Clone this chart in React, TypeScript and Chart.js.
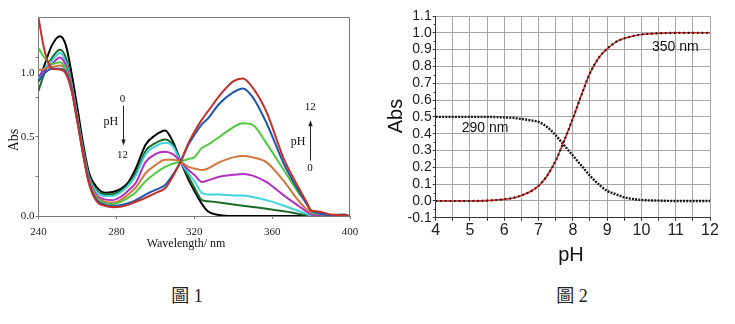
import React, { useEffect, useRef } from 'react';
import { Chart, registerables } from 'chart.js';

Chart.register(...registerables);

// ---------- Figure 1: UV-Vis spectra ----------
const wavelengths = [240, 243, 247, 251, 254, 257, 260, 263, 266, 270, 274, 278, 282, 286, 290, 295, 300, 305, 309, 313, 317, 320, 324, 327, 333, 340, 345, 350, 357, 366, 374, 378, 380, 383, 390, 397, 400];

const specPH0 = [0.85, 0.95, 1.08, 1.135, 1.08, 0.9, 0.68, 0.45, 0.27, 0.18, 0.147, 0.152, 0.17, 0.21, 0.3, 0.45, 0.51, 0.54, 0.47, 0.345, 0.23, 0.16, 0.075, 0.03, 0.006, 0, 0, 0, 0, 0, 0, 0, 0, 0, 0, 0, 0];
const specDarkGreen = [0.79, 0.9, 1.0, 1.05, 1.0, 0.84, 0.63, 0.42, 0.25, 0.16, 0.137, 0.138, 0.158, 0.2, 0.27, 0.41, 0.46, 0.483, 0.45, 0.343, 0.25, 0.18, 0.1, 0.093, 0.085, 0.072, 0.065, 0.057, 0.046, 0.03, 0.013, 0.005, 0, 0, 0, 0, 0];
const specCyan = [0.86, 0.93, 0.98, 1.03, 0.97, 0.83, 0.62, 0.41, 0.24, 0.15, 0.127, 0.127, 0.148, 0.19, 0.255, 0.39, 0.44, 0.462, 0.44, 0.343, 0.27, 0.22, 0.145, 0.135, 0.135, 0.13, 0.13, 0.12, 0.1, 0.065, 0.03, 0.012, 0.004, 0, 0, 0, 0];
const specMagenta = [0.88, 0.92, 0.96, 1.0, 0.95, 0.82, 0.61, 0.4, 0.23, 0.13, 0.105, 0.1, 0.12, 0.16, 0.21, 0.34, 0.39, 0.405, 0.39, 0.343, 0.29, 0.26, 0.215, 0.225, 0.248, 0.26, 0.265, 0.255, 0.215, 0.13, 0.06, 0.025, 0.01, 0.005, 0, 0, 0];
const specOrange = [0.92, 0.93, 0.94, 0.95, 0.92, 0.8, 0.6, 0.39, 0.22, 0.12, 0.09, 0.083, 0.1, 0.135, 0.18, 0.27, 0.32, 0.355, 0.355, 0.343, 0.31, 0.3, 0.29, 0.3, 0.34, 0.37, 0.378, 0.37, 0.34, 0.22, 0.09, 0.04, 0.02, 0.015, 0.005, 0, 0];
const specGreen = [1.06, 1.0, 0.96, 0.97, 0.93, 0.8, 0.6, 0.39, 0.21, 0.11, 0.08, 0.075, 0.088, 0.115, 0.15, 0.22, 0.27, 0.31, 0.33, 0.343, 0.36, 0.37, 0.43, 0.45, 0.5, 0.56, 0.585, 0.575, 0.46, 0.29, 0.14, 0.08, 0.03, 0.015, 0.005, 0, 0];
const specBlue = [0.85, 0.9, 0.93, 0.93, 0.91, 0.8, 0.6, 0.39, 0.21, 0.1, 0.072, 0.064, 0.068, 0.08, 0.1, 0.135, 0.165, 0.195, 0.26, 0.343, 0.45, 0.51, 0.58, 0.615, 0.71, 0.78, 0.805, 0.75, 0.59, 0.33, 0.15, 0.07, 0.035, 0.02, 0.005, 0.01, 0];
const specPH12 = [1.25, 1.05, 0.93, 0.925, 0.9, 0.79, 0.59, 0.38, 0.2, 0.09, 0.065, 0.056, 0.058, 0.07, 0.09, 0.115, 0.145, 0.175, 0.25, 0.343, 0.46, 0.53, 0.61, 0.66, 0.76, 0.85, 0.868, 0.81, 0.66, 0.36, 0.17, 0.08, 0.035, 0.03, 0.01, 0.005, 0];

const spectraXTicks = [240, 280, 320, 360, 400];
const spectraYTicks = [0, 0.25, 0.5, 0.75, 0.9, 1.0];
const spectraYLabels: Record<string, string> = { '0': '0.0', '0.5': '0.5', '0.9': '1.0' };

// ---------- Figure 2: titration ----------
const phValues = [4, 4.5, 5, 5.5, 6, 6.25, 6.5, 6.75, 7, 7.25, 7.5, 7.75, 8, 8.25, 8.5, 8.75, 9, 9.25, 9.5, 9.75, 10, 10.5, 11, 11.5, 12];
const abs350 = [0, 0, 0, 0.002, 0.01, 0.018, 0.033, 0.055, 0.09, 0.15, 0.24, 0.36, 0.49, 0.63, 0.76, 0.85, 0.905, 0.945, 0.967, 0.981, 0.99, 0.997, 1, 1, 1];
const abs290 = [0.5, 0.5, 0.5, 0.5, 0.497, 0.494, 0.488, 0.48, 0.47, 0.44, 0.39, 0.33, 0.27, 0.21, 0.15, 0.1, 0.06, 0.04, 0.022, 0.012, 0.006, 0.002, 0, 0, 0];
const titrationXTicks = [4, 4.5, 5, 5.5, 6, 6.5, 7, 7.5, 8, 8.5, 9, 9.5, 10, 10.5, 11, 11.5, 12];
const titrationYTicks = [-0.1, 0, 0.1, 0.2, 0.3, 0.4, 0.5, 0.6, 0.7, 0.8, 0.9, 1.0, 1.1];

const SERIF = '"Liberation Serif", "Times New Roman", serif';
const SANS = '"Liberation Sans", Arial, sans-serif';

type Note = { text: string; x: number; y: number; font: string; data?: boolean; rotate?: number };
type Arrow = { x: number; y1: number; y2: number };

const notesPlugin = {
  id: 'notes',
  afterDraw(chart: any, _args: any, opts: any) {
    const ctx = chart.ctx as CanvasRenderingContext2D;
    const sx = chart.scales.x;
    const sy = chart.scales.y;
    const area = chart.chartArea;
    if (opts.frame) {
      ctx.save();
      ctx.strokeStyle = opts.frame;
      ctx.lineWidth = 1;
      ctx.beginPath();
      ctx.moveTo(area.left, area.top + 0.5);
      ctx.lineTo(area.right - 0.5, area.top + 0.5);
      ctx.lineTo(area.right - 0.5, area.bottom);
      ctx.stroke();
      ctx.restore();
    }
    if (opts.minorY) {
      ctx.save();
      ctx.strokeStyle = '#333';
      ctx.lineWidth = 1;
      for (const v of opts.minorY as number[]) {
        const py = Math.round(sy.getPixelForValue(v)) + 0.5;
        ctx.beginPath();
        ctx.moveTo(area.left - 2, py);
        ctx.lineTo(area.left, py);
        ctx.stroke();
      }
      ctx.restore();
    }
    for (const n of (opts.items || []) as Note[]) {
      const px = n.data ? sx.getPixelForValue(n.x) : n.x;
      const py = n.data ? sy.getPixelForValue(n.y) : n.y;
      ctx.save();
      ctx.font = n.font;
      ctx.fillStyle = '#111';
      ctx.textAlign = 'center';
      ctx.textBaseline = 'middle';
      ctx.translate(px, py);
      if (n.rotate) ctx.rotate(n.rotate);
      ctx.fillText(n.text, 0, 0);
      ctx.restore();
    }
    for (const a of (opts.arrows || []) as Arrow[]) {
      const px = Math.round(sx.getPixelForValue(a.x)) + 0.5;
      const p1 = sy.getPixelForValue(a.y1);
      const p2 = sy.getPixelForValue(a.y2);
      const dir = p2 > p1 ? 1 : -1;
      ctx.save();
      ctx.strokeStyle = '#222';
      ctx.fillStyle = '#222';
      ctx.lineWidth = 1;
      ctx.beginPath();
      ctx.moveTo(px, p1);
      ctx.lineTo(px, p2 - dir * 4);
      ctx.stroke();
      ctx.beginPath();
      ctx.moveTo(px, p2);
      ctx.lineTo(px - 2.2, p2 - dir * 6);
      ctx.lineTo(px + 2.2, p2 - dir * 6);
      ctx.closePath();
      ctx.fill();
      ctx.restore();
    }
  },
};

function SpectraChart() {
  const ref = useRef<HTMLCanvasElement | null>(null);
  useEffect(() => {
    if (!ref.current) return;
    const series = [
      { label: 'pH 12', data: specPH12, color: '#c2322b' },
      { label: 'blue', data: specBlue, color: '#2157b0' },
      { label: 'green', data: specGreen, color: '#4fc940' },
      { label: 'orange', data: specOrange, color: '#d0783c' },
      { label: 'magenta', data: specMagenta, color: '#b22fc0' },
      { label: 'cyan', data: specCyan, color: '#3fd3e3' },
      { label: 'dark green', data: specDarkGreen, color: '#1b6a26' },
      { label: 'pH 0', data: specPH0, color: '#000000' },
    ];
    const chart = new Chart(ref.current, {
      type: 'line',
      data: {
        labels: wavelengths,
        datasets: series.map((s, i) => ({
          label: s.label,
          data: wavelengths.map((w, j) => ({ x: w, y: s.data[j] })),
          borderColor: s.color,
          borderWidth: 2,
          pointRadius: 0,
          cubicInterpolationMode: 'monotone' as const,
          order: i,
        })),
      },
      options: {
        animation: false,
        responsive: false,
        events: [],
        layout: { padding: { left: 0, top: 17, right: 20, bottom: 0 } },
        plugins: {
          legend: { display: false },
          tooltip: { enabled: false },
          notes: {
            frame: '#7a7a7a',
            items: [
              { text: 'Abs', x: 14, y: 140, font: `14px ${SERIF}`, rotate: -Math.PI / 2 },
              { text: 'Wavelength/ nm', x: 186, y: 244, font: `12px ${SERIF}` },
              { text: '0', x: 283.2, y: 0.738, font: `11px ${SERIF}`, data: true },
              { text: 'pH', x: 277.2, y: 0.593, font: `12px ${SERIF}`, data: true },
              { text: '12', x: 283.2, y: 0.385, font: `11px ${SERIF}`, data: true },
              { text: '12', x: 379.6, y: 0.687, font: `11px ${SERIF}`, data: true },
              { text: 'pH', x: 373.3, y: 0.465, font: `12px ${SERIF}`, data: true },
              { text: '0', x: 379.4, y: 0.3, font: `11px ${SERIF}`, data: true },
            ],
            arrows: [
              { x: 283.2, y1: 0.697, y2: 0.445 },
              { x: 379.4, y1: 0.35, y2: 0.605 },
            ],
          },
        } as any,
        scales: {
          x: {
            type: 'linear',
            min: 240,
            max: 400,
            afterFit: (s: any) => { s.height = 44; },
            afterBuildTicks: (s: any) => { s.ticks = spectraXTicks.map((v) => ({ value: v })); },
            border: { color: '#7a7a7a', width: 1 },
            grid: { drawOnChartArea: false, tickLength: 3, color: '#7a7a7a' },
            ticks: { padding: 7, color: '#222', font: { family: SERIF, size: 11 }, maxRotation: 0, callback: (v: any) => String(v) },
          },
          y: {
            type: 'linear',
            min: 0,
            max: 1.256,
            afterFit: (s: any) => { s.width = 38.5; },
            afterBuildTicks: (s: any) => { s.ticks = spectraYTicks.map((v) => ({ value: v })); },
            border: { color: '#7a7a7a', width: 1 },
            grid: {
              drawOnChartArea: false,
              tickLength: 3,
              tickColor: (c: any) => (c.tick && c.tick.value === 0.9 ? 'rgba(0,0,0,0)' : '#7a7a7a'),
            },
            ticks: {
              padding: 1,
              color: '#222',
              font: { family: SERIF, size: 11 },
              callback: (v: any) => spectraYLabels[String(v)] ?? '',
            },
          },
        },
      },
      plugins: [notesPlugin],
    } as any);
    return () => chart.destroy();
  }, []);
  return <canvas ref={ref} width={370} height={260} style={{ position: 'absolute', left: 0, top: 0, display: 'block' }} />;
}

function TitrationChart() {
  const ref = useRef<HTMLCanvasElement | null>(null);
  useEffect(() => {
    if (!ref.current) return;
    const minor: number[] = [];
    for (let i = 0; i < titrationYTicks.length - 1; i++) minor.push((titrationYTicks[i] + titrationYTicks[i + 1]) / 2);
    const chart = new Chart(ref.current, {
      type: 'line',
      data: {
        datasets: [
          {
            label: '350 nm dots',
            data: phValues.map((p, i) => ({ x: p, y: abs350[i] })),
            borderColor: '#1a1a1a',
            borderWidth: 2.2,
            borderDash: [1.6, 3],
            pointRadius: 0,
            cubicInterpolationMode: 'monotone' as const,
            order: 0,
          },
          {
            label: '350 nm',
            data: phValues.map((p, i) => ({ x: p, y: abs350[i] })),
            borderColor: '#d8231d',
            borderWidth: 1.6,
            pointRadius: 0,
            cubicInterpolationMode: 'monotone' as const,
            order: 1,
          },
          {
            label: '290 nm',
            data: phValues.map((p, i) => ({ x: p, y: abs290[i] })),
            borderColor: '#1a1a1a',
            borderWidth: 2.4,
            borderDash: [2, 1.2],
            pointRadius: 0,
            cubicInterpolationMode: 'monotone' as const,
            order: 2,
          },
        ],
      },
      options: {
        animation: false,
        responsive: false,
        events: [],
        layout: { padding: { left: 30, top: 16, right: 25, bottom: 0 } },
        plugins: {
          legend: { display: false },
          tooltip: { enabled: false },
          notes: {
            minorY: minor,
            items: [
              { text: 'Abs', x: 26.7, y: 116, font: `20px ${SANS}`, rotate: -Math.PI / 2 },
              { text: 'pH', x: 201, y: 255, font: `20px ${SANS}` },
              { text: '290 nm', x: 5.44, y: 0.434, font: `14px ${SANS}`, data: true },
              { text: '350 nm', x: 10.99, y: 0.915, font: `14px ${SANS}`, data: true },
            ],
          },
        } as any,
        scales: {
          x: {
            type: 'linear',
            min: 4,
            max: 12,
            afterFit: (s: any) => { s.height = 62.2; },
            afterBuildTicks: (s: any) => { s.ticks = titrationXTicks.map((v) => ({ value: v })); },
            border: { color: '#333', width: 1 },
            grid: { color: '#a6a6a6', lineWidth: 1, tickLength: 3, tickColor: '#333' },
            ticks: {
              padding: 2,
              color: '#222',
              maxRotation: 0,
              autoSkip: false,
              font: { family: SANS, size: 16, lineHeight: 1 },
              callback: (v: any) => (Number.isInteger(Number(v)) ? String(v) : ''),
            },
          },
          y: {
            type: 'linear',
            min: -0.1,
            max: 1.1,
            afterFit: (s: any) => { s.width = 35.7; },
            afterBuildTicks: (s: any) => { s.ticks = titrationYTicks.map((v) => ({ value: v })); },
            border: { color: '#333', width: 1 },
            grid: { color: '#a6a6a6', lineWidth: 1, tickLength: 3, tickColor: '#333' },
            ticks: {
              padding: 1,
              color: '#222',
              autoSkip: false,
              font: { family: SANS, size: 14, lineHeight: 1 },
              callback: (v: any) => Number(v).toFixed(1),
            },
          },
        },
      },
      plugins: [notesPlugin],
    } as any);
    return () => chart.destroy();
  }, []);
  return <canvas ref={ref} width={365} height={280} style={{ position: 'absolute', left: 370, top: 0, display: 'block' }} />;
}

export default function App() {
  const caption: React.CSSProperties = {
    position: 'absolute',
    top: 285,
    width: 100,
    textAlign: 'center',
    fontFamily: '"Liberation Serif", "Noto Sans CJK TC", serif',
    fontSize: 18,
    lineHeight: '22px',
    color: '#222',
  };
  return (
    <div style={{ position: 'absolute', left: 0, top: 0, width: 735, height: 324, background: '#fff', overflow: 'hidden' }}>
      <SpectraChart />
      <TitrationChart />
      <div style={{ ...caption, left: 137 }}>圖 1</div>
      <div style={{ ...caption, left: 522 }}>圖 2</div>
    </div>
  );
}
